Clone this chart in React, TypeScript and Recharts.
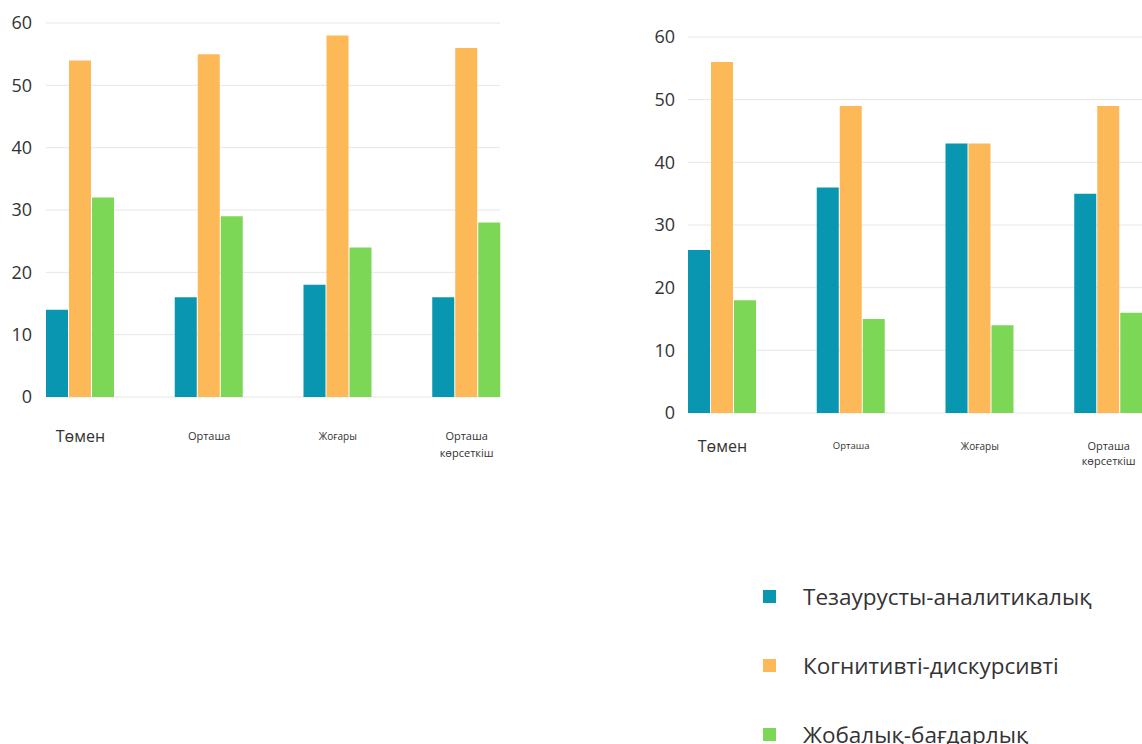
import React from 'react';
import { BarChart, Bar, XAxis, YAxis, CartesianGrid, Legend } from 'recharts';

// Shared categories, series names and axis ticks
const categories = ['Төмен', 'Орташа', 'Жоғары', 'Орташа көрсеткіш'];
const seriesNames = ['Тезаурусты-аналитикалық', 'Когнитивті-дискурсивті', 'Жобалық-бағдарлық'];
const yTicks = [0, 10, 20, 30, 40, 50, 60];

// First chart
const firstThesaurus = [14, 16, 18, 16];
const firstCognitive = [54, 55, 58, 56];
const firstProject = [32, 29, 24, 28];

// Second chart
const secondThesaurus = [26, 36, 43, 35];
const secondCognitive = [56, 49, 43, 49];
const secondProject = [18, 15, 14, 16];

const COLORS = ['#0896B0', '#FDB858', '#7DD756'];
const FONT = "'Open Sans', 'Noto Sans', sans-serif";
const SERIES_KEYS = ['s0', 's1', 's2'];

function buildRows(a: number[], b: number[], c: number[]) {
  return categories.map((name, i) => ({ name, s0: a[i], s1: b[i], s2: c[i] }));
}

const firstRows = buildRows(firstThesaurus, firstCognitive, firstProject);
const secondRows = buildRows(secondThesaurus, secondCognitive, secondProject);

// Category label: multi-word labels wrap onto separate lines
function CategoryTick(props: any) {
  const { x, y, payload, fontSizes, offset, lineHeight } = props;
  const idx = categories.indexOf(payload.value);
  const fs = fontSizes[idx >= 0 ? idx : 0];
  const lines = String(payload.value).split(' ');
  return (
    <text x={x} y={y + offset} textAnchor="middle" fontFamily={FONT} fontSize={fs} fill="#333">
      {lines.map((line, k) => (
        <tspan key={k} x={x} dy={k === 0 ? '0.35em' : lineHeight}>
          {line}
        </tspan>
      ))}
    </text>
  );
}

function LegendList(props: any) {
  const payload = [...(props.payload || [])].sort(
    (a: any, b: any) => seriesNames.indexOf(a.value) - seriesNames.indexOf(b.value)
  );
  return (
    <div style={{ fontFamily: FONT }}>
      {payload.map((entry: any) => (
        <div key={entry.value} style={{ display: 'flex', alignItems: 'center', height: 69 }}>
          <span
            style={{
              display: 'inline-block',
              width: 13,
              height: 13,
              background: entry.color,
              marginRight: 27,
              flex: 'none',
            }}
          />
          <span style={{ fontSize: 22.5, lineHeight: '26px', color: '#333', whiteSpace: 'nowrap' }}>
            {entry.value}
          </span>
        </div>
      ))}
    </div>
  );
}

function renderBars() {
  return SERIES_KEYS.map((key, i) => (
    <Bar key={key} dataKey={key} name={seriesNames[i]} fill={COLORS[i]} isAnimationActive={false} />
  ));
}

export default function App() {
  return (
    <div
      style={{
        position: 'absolute',
        left: 0,
        top: 0,
        width: 1142,
        height: 744,
        overflow: 'hidden',
        background: '#fff',
      }}
    >
      <div style={{ position: 'absolute', left: 0, top: 0 }}>
        <BarChart
          width={520}
          height={480}
          data={firstRows}
          margin={{ top: 23, right: 20, left: 0, bottom: 23 }}
          barSize={22}
          barGap={1}
        >
          <CartesianGrid vertical={false} stroke="#e6e6e6" />
          <XAxis
            dataKey="name"
            tickLine={false}
            axisLine={false}
            tickSize={0}
            tickMargin={0}
            height={60}
            interval={0}
            padding={{ left: -30, right: -31 }}
            tick={<CategoryTick fontSizes={[16, 11, 10, 11]} offset={39} lineHeight={17} />}
          />
          <YAxis
            type="number"
            domain={[0, 60]}
            ticks={yTicks}
            interval={0}
            tickLine={false}
            axisLine={false}
            width={46}
            tickSize={0}
            tickMargin={14}
            tick={{ fontSize: 18, fill: '#333', fontFamily: FONT }}
          />
          {renderBars()}
        </BarChart>
      </div>
      <div style={{ position: 'absolute', left: 640, top: 0 }}>
        <BarChart
          width={520}
          height={744}
          data={secondRows}
          margin={{ top: 37, right: 17, left: 0, bottom: 271 }}
          barSize={22}
          barGap={1}
        >
          <CartesianGrid vertical={false} stroke="#e6e6e6" />
          <XAxis
            dataKey="name"
            tickLine={false}
            axisLine={false}
            tickSize={0}
            tickMargin={0}
            height={60}
            interval={0}
            padding={{ left: -30, right: -30 }}
            tick={<CategoryTick fontSizes={[16, 9.5, 10, 11]} offset={33} lineHeight={15} />}
          />
          <YAxis
            type="number"
            domain={[0, 60]}
            ticks={yTicks}
            interval={0}
            tickLine={false}
            axisLine={false}
            width={48}
            tickSize={0}
            tickMargin={13}
            tick={{ fontSize: 18, fill: '#333', fontFamily: FONT }}
          />
          {renderBars()}
          <Legend
            layout="vertical"
            align="center"
            verticalAlign="middle"
            itemSorter={null as any}
            wrapperStyle={{ left: 123, top: 562, width: 380 }}
            content={<LegendList />}
          />
        </BarChart>
      </div>
    </div>
  );
}
